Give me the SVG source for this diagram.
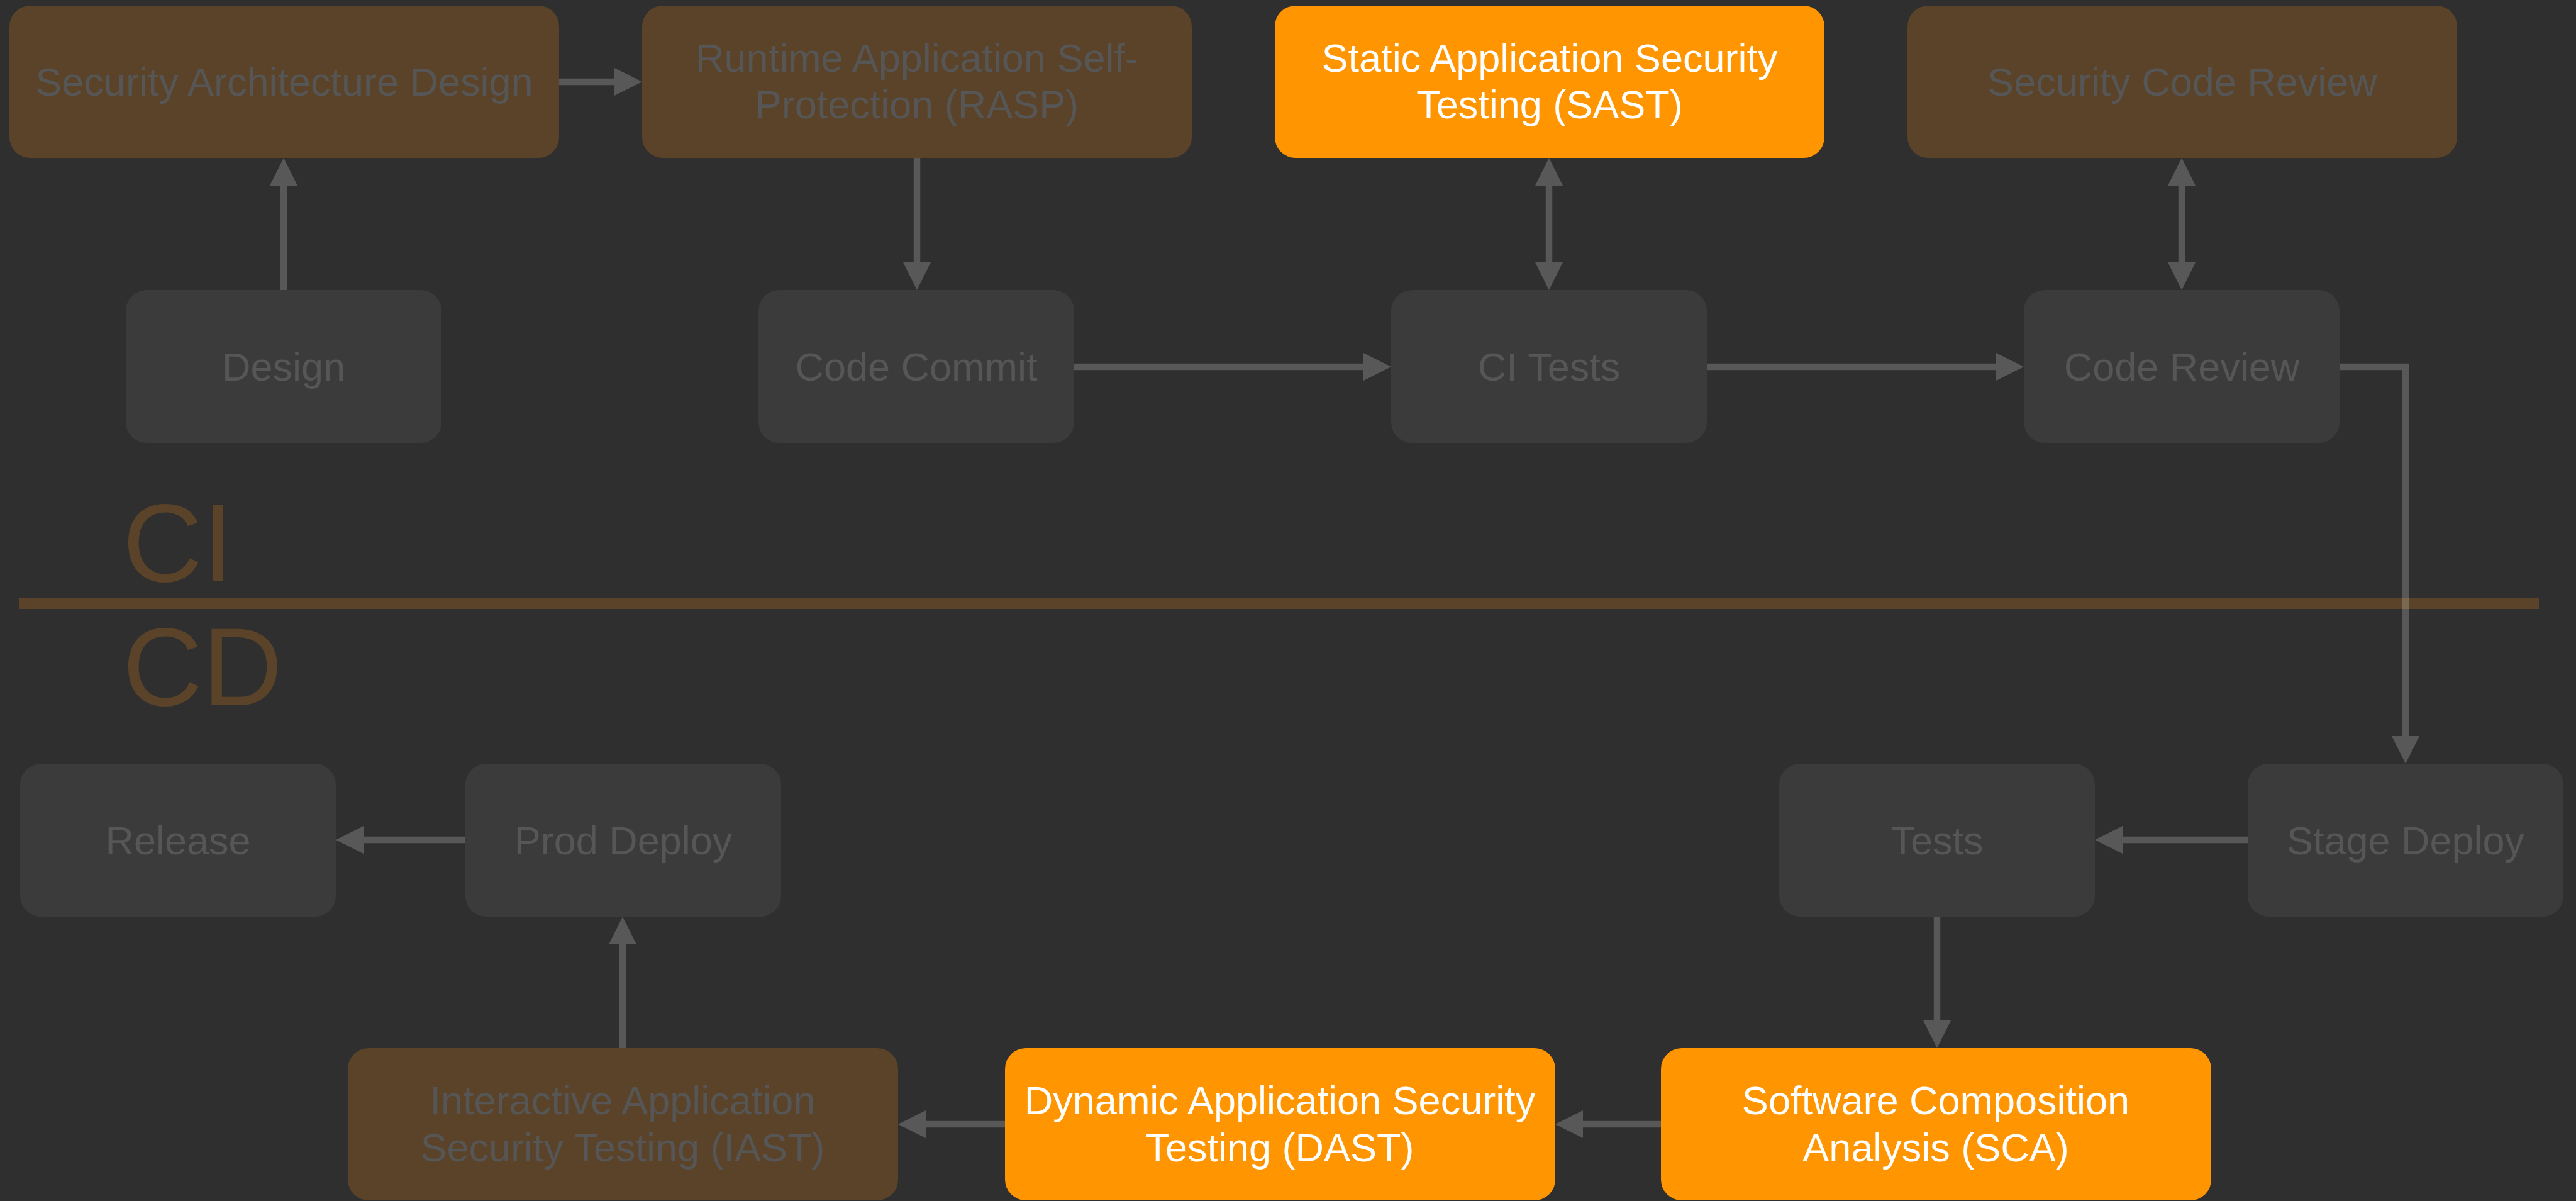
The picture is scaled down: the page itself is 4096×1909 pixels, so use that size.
<svg xmlns="http://www.w3.org/2000/svg" width="4096" height="1909" viewBox="0 0 4096 1909">
<style>
.box rect{rx:33px;ry:33px}
.dark rect{fill:#3b3b3b}
.brown rect{fill:#5a4328}
.orange rect{fill:#ff9500}
text{font-family:"Liberation Sans",Arial,Helvetica,sans-serif;font-size:63px;text-anchor:middle}
.dark text,.brown text{fill:#565656}
.orange text{fill:#ffffff}
.phase{font-size:176px;fill:#5a4328;text-anchor:start}
.conn path{fill:none;stroke:#ffffff;stroke-opacity:0.2;stroke-width:10.5}
</style>
<defs>
<marker id="arr" markerUnits="userSpaceOnUse" viewBox="0 -22 44 44" markerWidth="44" markerHeight="44" refX="0" refY="0" orient="auto-start-reverse">
<path d="M0,-22 L44,0 L0,22 z" fill="#ffffff" fill-opacity="0.2"/>
</marker>
</defs>
<rect x="0" y="0" width="4096" height="1909" fill="#2f2f2f"/>
<g id="phases">
<rect x="31" y="950" width="4006" height="18" fill="#5a4328"/>
<text class="phase" x="195" y="924">CI</text>
<text class="phase" x="195" y="1121">CD</text>
</g>
<g id="n-sad" class="box brown"><rect x="15" y="9" width="874" height="242"/><text x="452" y="152">Security Architecture Design</text></g>
<g id="n-rasp" class="box brown"><rect x="1021" y="9" width="874" height="242"/><text x="1458" y="114">Runtime Application Self-</text><text x="1458" y="188">Protection (RASP)</text></g>
<g id="n-sast" class="box orange"><rect x="2027" y="9" width="874" height="242"/><text x="2464" y="114">Static Application Security</text><text x="2464" y="188">Testing (SAST)</text></g>
<g id="n-scr" class="box brown"><rect x="3033" y="9" width="874" height="242"/><text x="3470" y="152">Security Code Review</text></g>
<g id="n-design" class="box dark"><rect x="200" y="461" width="502" height="243"/><text x="451" y="605">Design</text></g>
<g id="n-commit" class="box dark"><rect x="1206" y="461" width="502" height="243"/><text x="1457" y="605">Code Commit</text></g>
<g id="n-citests" class="box dark"><rect x="2212" y="461" width="502" height="243"/><text x="2463" y="605">CI Tests</text></g>
<g id="n-review" class="box dark"><rect x="3218" y="461" width="502" height="243"/><text x="3469" y="605">Code Review</text></g>
<g id="n-release" class="box dark"><rect x="32" y="1214" width="502" height="243"/><text x="283" y="1358">Release</text></g>
<g id="n-prod" class="box dark"><rect x="740" y="1214" width="502" height="243"/><text x="991" y="1358">Prod Deploy</text></g>
<g id="n-tests" class="box dark"><rect x="2829" y="1214" width="502" height="243"/><text x="3080" y="1358">Tests</text></g>
<g id="n-stage" class="box dark"><rect x="3574" y="1214" width="502" height="243"/><text x="3825" y="1358">Stage Deploy</text></g>
<g id="n-iast" class="box brown"><rect x="553" y="1666" width="875" height="242"/><text x="990" y="1771">Interactive Application</text><text x="990" y="1846">Security Testing (IAST)</text></g>
<g id="n-dast" class="box orange"><rect x="1598" y="1666" width="875" height="242"/><text x="2035" y="1771">Dynamic Application Security</text><text x="2035" y="1846">Testing (DAST)</text></g>
<g id="n-sca" class="box orange"><rect x="2641" y="1666" width="875" height="242"/><text x="3078" y="1771">Software Composition</text><text x="3078" y="1846">Analysis (SCA)</text></g>
<g id="connectors" class="conn">
<path d="M451 461 V295" marker-end="url(#arr)"/>
<path d="M889 130 H977" marker-end="url(#arr)"/>
<path d="M1458 251 V417" marker-end="url(#arr)"/>
<path d="M1708 583 H2168" marker-end="url(#arr)"/>
<path d="M2463 295 V417" marker-start="url(#arr)" marker-end="url(#arr)"/>
<path d="M2714 583 H3174" marker-end="url(#arr)"/>
<path d="M3469 295 V417" marker-start="url(#arr)" marker-end="url(#arr)"/>
<path d="M3720 583 H3825 V1170" marker-end="url(#arr)"/>
<path d="M3574 1335 H3375" marker-end="url(#arr)"/>
<path d="M3080 1457 V1622" marker-end="url(#arr)"/>
<path d="M2641 1787 H2517" marker-end="url(#arr)"/>
<path d="M1598 1787 H1472" marker-end="url(#arr)"/>
<path d="M990 1666 V1501" marker-end="url(#arr)"/>
<path d="M740 1335 H578" marker-end="url(#arr)"/>
</g>
</svg>
